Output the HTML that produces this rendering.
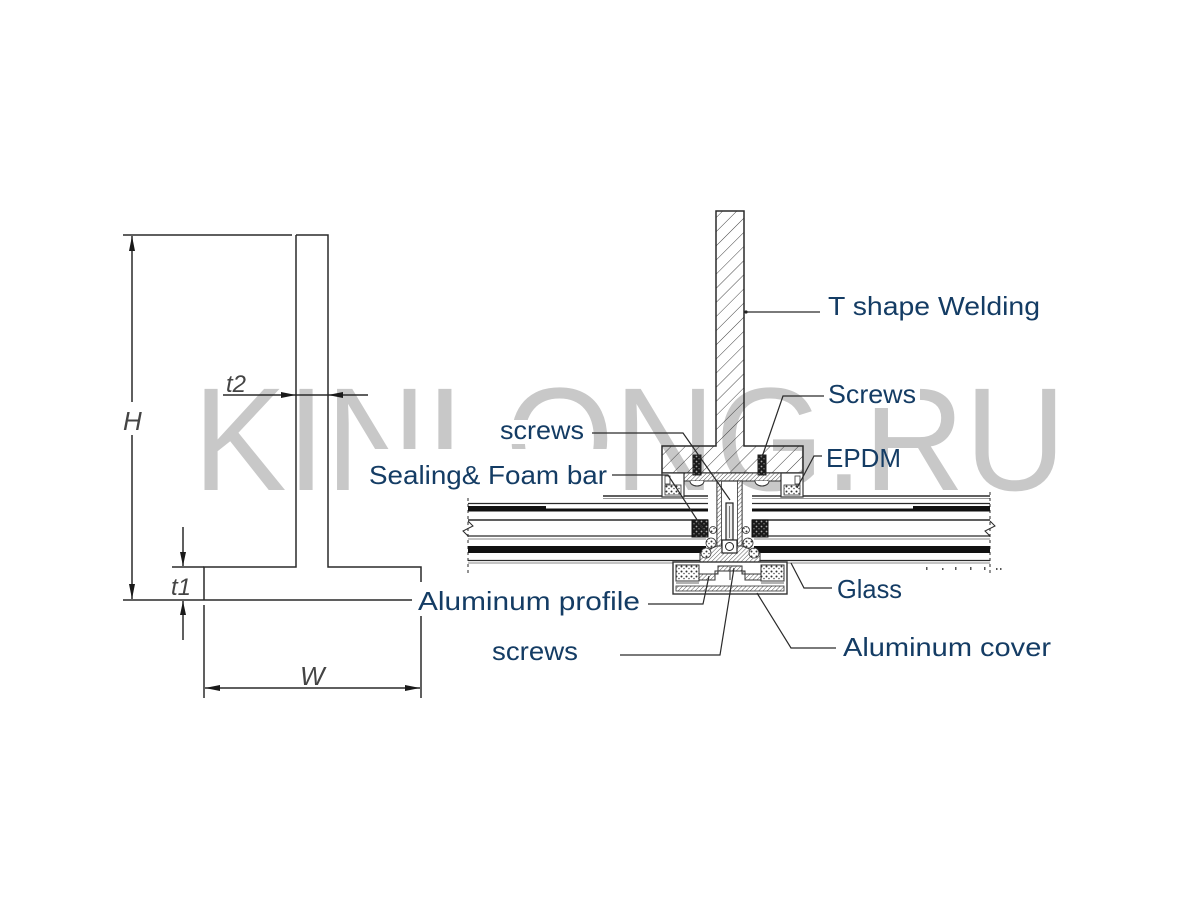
<!DOCTYPE html>
<html>
<head>
<meta charset="utf-8">
<style>
  html,body{margin:0;padding:0;background:#fff;}
  svg{display:block;}
  .lbl{font-family:"Liberation Sans",sans-serif;font-size:26px;fill:#143c64;}
  .dim{font-family:"Liberation Sans",sans-serif;font-style:italic;fill:#444;}
</style>
</head>
<body>
<svg width="1200" height="900" viewBox="0 0 1200 900" xmlns="http://www.w3.org/2000/svg">
  <defs>
    <pattern id="h" patternUnits="userSpaceOnUse" width="10" height="10" patternTransform="rotate(45)">
      <line x1="0" y1="0" x2="0" y2="10" stroke="#444" stroke-width="1"/>
    </pattern>
    <pattern id="hf" patternUnits="userSpaceOnUse" width="3" height="3" patternTransform="rotate(45)">
      <rect width="3" height="3" fill="#fff"/>
      <line x1="0" y1="0" x2="0" y2="3" stroke="#555" stroke-width="1"/>
    </pattern>
    <pattern id="dots" patternUnits="userSpaceOnUse" width="5" height="5">
      <rect width="5" height="5" fill="#fff"/>
      <circle cx="1.5" cy="1.5" r="1" fill="#333"/>
      <circle cx="4" cy="3.5" r="0.8" fill="#555"/>
    </pattern>
    <pattern id="dotsb" patternUnits="userSpaceOnUse" width="5" height="5">
      <rect width="5" height="5" fill="#1a1a1a"/>
      <circle cx="1.5" cy="1.5" r="0.9" fill="#aaa"/>
      <circle cx="4" cy="3.8" r="0.7" fill="#888"/>
    </pattern>
  </defs>

  <rect width="1200" height="900" fill="#fff"/>

  <!-- watermark -->
  <text x="193" y="490" font-family="Liberation Sans, sans-serif" font-size="147" textLength="873" lengthAdjust="spacingAndGlyphs" fill="#c8c8c8">KINLONG.RU</text>

  <!-- label background boxes that hide watermark -->
  <rect x="498" y="420" width="88" height="24" fill="#fff"/>
  <rect x="365" y="449" width="245" height="44" fill="#fff"/>
  <rect x="824" y="380" width="96" height="28" fill="#fff"/>

  <!-- ============ LEFT T-SHAPE DIMENSION DRAWING ============ -->
  <g stroke="#2a2a2a" stroke-width="1.5" fill="none">
    <line x1="123" y1="235" x2="292" y2="235"/>
    <path d="M296,235 H328 V567 H421 V582"/>
    <path d="M296,235 V567 H204 V600"/>
    <line x1="172" y1="567" x2="204" y2="567"/>
    <line x1="123" y1="600" x2="412" y2="600"/>
    <line x1="204" y1="605" x2="204" y2="698"/>
    <line x1="421" y1="605" x2="421" y2="698"/>
    <line x1="132" y1="236" x2="132" y2="402"/>
    <line x1="132" y1="435" x2="132" y2="599"/>
    <line x1="183" y1="527" x2="183" y2="566"/>
    <line x1="183" y1="601" x2="183" y2="640"/>
    <line x1="223" y1="395" x2="368" y2="395"/>
    <line x1="205" y1="688" x2="420" y2="688"/>
  </g>
  <g fill="#1a1a1a">
    <polygon points="132,236 129,251 135,251"/>
    <polygon points="132,599 129,584 135,584"/>
    <polygon points="183,566 180,552 186,552"/>
    <polygon points="183,601 180,615 186,615"/>
    <polygon points="296,395 281,392 281,398"/>
    <polygon points="328,395 343,392 343,398"/>
    <polygon points="205,688 220,685 220,691"/>
    <polygon points="420,688 405,685 405,691"/>
  </g>
  <text class="dim" x="123" y="430" font-size="26">H</text>
  <text class="dim" x="226" y="392" font-size="24">t2</text>
  <text class="dim" x="171" y="595" font-size="24">t1</text>
  <text class="dim" x="300" y="685" font-size="26">W</text>

  <!-- ============ RIGHT SECTION DRAWING ============ -->
  <g stroke="#2a2a2a" fill="none">
    <line x1="603" y1="496" x2="708" y2="496" stroke-width="1.4"/>
    <line x1="752" y1="496" x2="990" y2="496" stroke-width="1.4"/>
    <line x1="603" y1="498.5" x2="708" y2="498.5" stroke="#999" stroke-width="1"/>
    <line x1="752" y1="498.5" x2="990" y2="498.5" stroke="#999" stroke-width="1"/>
    <line x1="468" y1="503.5" x2="708" y2="503.5" stroke-width="1.2"/>
    <line x1="752" y1="503.5" x2="990" y2="503.5" stroke-width="1.2"/>
    <line x1="468" y1="520" x2="708" y2="520" stroke-width="1.4"/>
    <line x1="752" y1="520" x2="990" y2="520" stroke-width="1.4"/>
    <line x1="468" y1="536" x2="706" y2="536" stroke-width="1.2"/>
    <line x1="754" y1="536" x2="990" y2="536" stroke-width="1.2"/>
    <line x1="468" y1="539" x2="706" y2="539" stroke="#888" stroke-width="1"/>
    <line x1="754" y1="539" x2="990" y2="539" stroke="#888" stroke-width="1"/>
    <line x1="468" y1="560.5" x2="706" y2="560.5" stroke-width="1.2"/>
    <line x1="754" y1="560.5" x2="990" y2="560.5" stroke-width="1.2"/>
    <line x1="468" y1="563" x2="706" y2="563" stroke="#888" stroke-width="1"/>
    <line x1="754" y1="563" x2="990" y2="563" stroke="#888" stroke-width="1"/>
    <polyline points="468,521 473,526 463,531 468,536" stroke-width="1"/>
    <polyline points="990,521 995,526 985,531 990,536" stroke-width="1"/>
    <line x1="468" y1="498" x2="468" y2="575" stroke-dasharray="3,3" stroke-width="1"/>
    <line x1="990" y1="492" x2="990" y2="575" stroke-dasharray="3,3" stroke-width="1"/>
  </g>
  <g fill="#111">
    <rect x="468" y="506" width="78" height="5.5"/>
    <rect x="546" y="508.5" width="162" height="3"/>
    <rect x="752" y="508.5" width="161" height="3"/>
    <rect x="913" y="506" width="77" height="5.5"/>
    <rect x="468" y="546" width="238" height="7"/>
    <rect x="754" y="546" width="236" height="7"/>
  </g>
  <g fill="#555">
    <rect x="926" y="567" width="1.5" height="3"/>
    <rect x="942" y="568" width="1.5" height="2"/>
    <rect x="955" y="567" width="1.5" height="3"/>
    <rect x="970" y="567" width="1.5" height="3"/>
    <rect x="984" y="567" width="1.5" height="3"/>
    <rect x="996" y="568" width="1.5" height="2"/>
    <rect x="1000" y="568" width="1.5" height="2"/>
  </g>
  <rect x="692" y="520" width="16" height="17" fill="url(#dotsb)" stroke="#111" stroke-width="1"/>
  <rect x="752" y="520" width="16" height="17" fill="url(#dotsb)" stroke="#111" stroke-width="1"/>

  <!-- T welding (web + flange) -->
  <path d="M716,211 H744 V446 H803 V473 H662 V446 H716 Z" fill="url(#h)" stroke="#2a2a2a" stroke-width="1.5"/>

  <!-- aluminum profile top plate -->
  <rect x="682" y="473" width="100" height="8" fill="url(#hf)" stroke="#333" stroke-width="1"/>
  <rect x="662" y="473" width="22" height="24" fill="#fff" stroke="#333" stroke-width="1.2"/>
  <rect x="665" y="485" width="16" height="10" fill="url(#dots)" stroke="#333" stroke-width="0.8"/>
  <rect x="665" y="476" width="5" height="8" fill="#fff" stroke="#333" stroke-width="0.8"/>
  <rect x="781" y="473" width="22" height="24" fill="#fff" stroke="#333" stroke-width="1.2"/>
  <rect x="784" y="485" width="16" height="10" fill="url(#dots)" stroke="#333" stroke-width="0.8"/>
  <rect x="795" y="476" width="5" height="8" fill="#fff" stroke="#333" stroke-width="0.8"/>

  <!-- screws in flange -->
  <rect x="693" y="455" width="8" height="20" fill="url(#dotsb)" stroke="#222" stroke-width="1"/>
  <rect x="758" y="455" width="8" height="20" fill="url(#dotsb)" stroke="#222" stroke-width="1"/>
  <path d="M690,481 a7,5 0 0 0 14,0" fill="#fff" stroke="#333" stroke-width="1"/>
  <path d="M755,481 a7,5 0 0 0 14,0" fill="#fff" stroke="#333" stroke-width="1"/>

  <!-- central stem -->
  <rect x="717" y="481" width="25" height="68" fill="#fff" stroke="#333" stroke-width="1.2"/>
  <rect x="717" y="481" width="4.5" height="68" fill="url(#hf)" stroke="#333" stroke-width="0.8"/>
  <rect x="737.5" y="481" width="4.5" height="68" fill="url(#hf)" stroke="#333" stroke-width="0.8"/>
  <rect x="726" y="503" width="7" height="37" fill="#eee" stroke="#222" stroke-width="1.2"/>
  <line x1="729.5" y1="506" x2="729.5" y2="538" stroke="#555" stroke-width="0.8"/>
  <path d="M700,553 L717,546 L742,546 L760,553 L760,562 L742,567 L717,567 L700,562 Z" fill="url(#hf)" stroke="#333" stroke-width="1"/>
  <rect x="722" y="540" width="15" height="13" fill="#fff" stroke="#222" stroke-width="1.2"/>
  <circle cx="729.5" cy="546.5" r="4" fill="none" stroke="#222" stroke-width="1"/>
  <g fill="url(#dots)" stroke="#333" stroke-width="0.8">
    <circle cx="711" cy="543" r="5"/>
    <circle cx="706" cy="553" r="5"/>
    <circle cx="748" cy="543" r="5"/>
    <circle cx="754" cy="553" r="5"/>
    <circle cx="713" cy="530" r="3.5"/>
    <circle cx="746" cy="530" r="3.5"/>
  </g>

  <!-- bottom aluminum cover -->
  <rect x="673" y="562" width="114" height="32" fill="#fff" stroke="#333" stroke-width="1.4"/>
  <rect x="676" y="586" width="108" height="5" fill="url(#hf)" stroke="#333" stroke-width="0.8"/>
  <rect x="676" y="565" width="23" height="16" fill="url(#dots)" stroke="#333" stroke-width="1"/>
  <rect x="761" y="565" width="23" height="16" fill="url(#dots)" stroke="#333" stroke-width="1"/>
  <path d="M699,574 H718 V566 H742 V574 H761 V580 H745 V571 H715 V580 H699 Z" fill="url(#hf)" stroke="#333" stroke-width="1"/>
  <line x1="730" y1="567" x2="730" y2="580" stroke="#333" stroke-width="1"/>
  <line x1="676" y1="583" x2="699" y2="583" stroke="#333" stroke-width="0.8"/>
  <line x1="761" y1="583" x2="784" y2="583" stroke="#333" stroke-width="0.8"/>

  <!-- ============ LEADER LINES ============ -->
  <g stroke="#2a2a2a" stroke-width="1.2" fill="none">
    <line x1="745" y1="312" x2="820" y2="312"/>
    <polyline points="824,396 783,396 762,457"/>
    <polyline points="822,456 814,456 797,488"/>
    <polyline points="592,433 683,433 730,500"/>
    <polyline points="612,475 668,475 705,532"/>
    <polyline points="832,588 804,588 791,563"/>
    <polyline points="648,604 703,604 709,576"/>
    <polyline points="620,655 720,655 734,568"/>
    <polyline points="836,648 791,648 757,593"/>
  </g>
  <circle cx="746" cy="312" r="1.6" fill="#222"/>

  <!-- ============ LABELS ============ -->
  <rect x="414" y="586" width="230" height="30" fill="#fff"/>
  <text class="lbl" x="828" y="315" textLength="212" lengthAdjust="spacingAndGlyphs">T shape Welding</text>
  <text class="lbl" x="828" y="403" textLength="88" lengthAdjust="spacingAndGlyphs">Screws</text>
  <text class="lbl" x="826" y="467" textLength="75" lengthAdjust="spacingAndGlyphs">EPDM</text>
  <text class="lbl" x="500" y="439" textLength="84" lengthAdjust="spacingAndGlyphs">screws</text>
  <text class="lbl" x="369" y="484" textLength="238" lengthAdjust="spacingAndGlyphs">Sealing&amp; Foam bar</text>
  <text class="lbl" x="418" y="610" textLength="222" lengthAdjust="spacingAndGlyphs">Aluminum profile</text>
  <text class="lbl" x="837" y="598" textLength="65" lengthAdjust="spacingAndGlyphs">Glass</text>
  <text class="lbl" x="492" y="660" textLength="86" lengthAdjust="spacingAndGlyphs">screws</text>
  <text class="lbl" x="843" y="656" textLength="208" lengthAdjust="spacingAndGlyphs">Aluminum cover</text>
</svg>
</body>
</html>
